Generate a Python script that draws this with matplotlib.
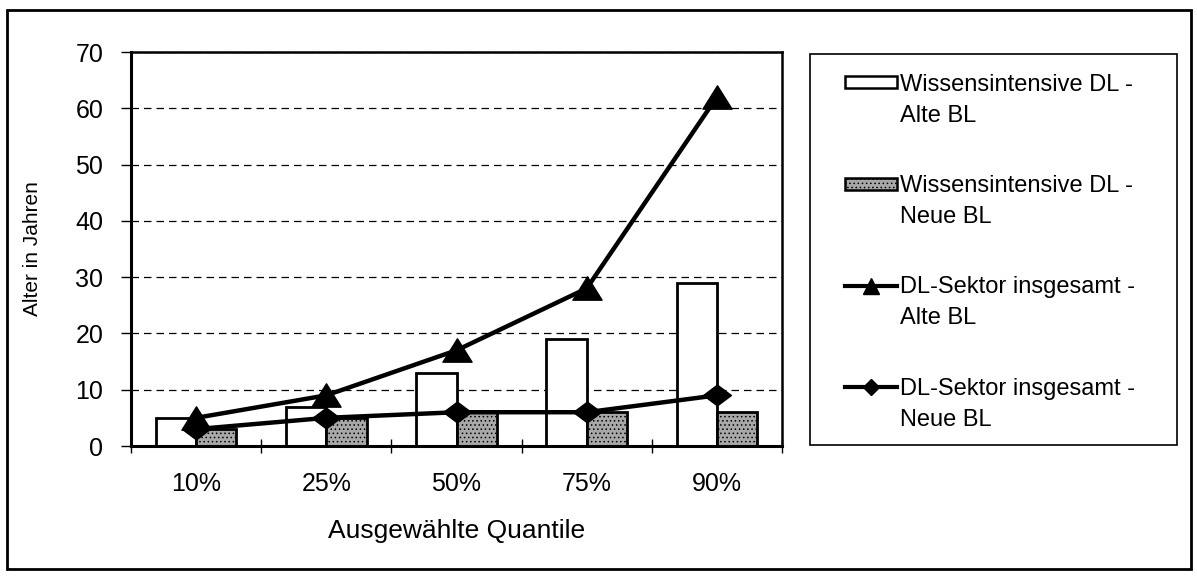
import matplotlib
matplotlib.use('Agg')
import matplotlib.pyplot as plt
import numpy as np
from matplotlib.patches import Rectangle, Patch
from matplotlib.lines import Line2D
from matplotlib.path import Path
from matplotlib.legend_handler import HandlerPatch, HandlerLine2D

# Werte
quantile = ['10%', '25%', '50%', '75%', '90%']
wissen_alt = [5, 7, 13, 19, 29]
wissen_neu = [3, 5, 6, 6, 6]
dl_alt = [5, 9, 17, 28, 62]
dl_neu = [3, 5, 6, 6, 9]
y_ticks = [0, 10, 20, 30, 40, 50, 60, 70]

labels = ['Wissensintensive DL -\nAlte BL',
          'Wissensintensive DL -\nNeue BL',
          'DL-Sektor insgesamt -\nAlte BL',
          'DL-Sektor insgesamt -\nNeue BL']

W, H = 1197, 576
GRAU = '#a8a8a8'

plt.rcParams['font.family'] = ['Liberation Sans', 'DejaVu Sans']
plt.rcParams['hatch.linewidth'] = 0.6

# Excel-artige Marker (etwas breiter als hoch)
tri = Path([(-1, -0.8), (1, -0.8), (0, 0.8), (-1, -0.8)],
           [Path.MOVETO, Path.LINETO, Path.LINETO, Path.CLOSEPOLY])
rau = Path([(-1, 0), (0, 0.75), (1, 0), (0, -0.75), (-1, 0)],
           [Path.MOVETO, Path.LINETO, Path.LINETO, Path.LINETO, Path.CLOSEPOLY])


class PatchOben(HandlerPatch):
    # Symbol auf Hoehe der ersten Textzeile
    def __init__(self, shift, **kw):
        super().__init__(**kw)
        self.shift = shift

    def create_artists(self, legend, orig_handle, xdescent, ydescent, width, height, fontsize, trans):
        return super().create_artists(legend, orig_handle, xdescent, ydescent - self.shift,
                                      width, height, fontsize, trans)


class LinieOben(HandlerLine2D):
    def __init__(self, shift, **kw):
        super().__init__(**kw)
        self.shift = shift

    def create_artists(self, legend, orig_handle, xdescent, ydescent, width, height, fontsize, trans):
        return super().create_artists(legend, orig_handle, xdescent, ydescent - 2 * self.shift,
                                      width, height, fontsize, trans)


fig = plt.figure(figsize=(W / 100, H / 100), dpi=100)
ax = fig.add_axes([131 / W, 1 - 446 / H, 651 / W, 394 / H])

x = np.arange(len(quantile))
w = 0.31
ax.bar(x - w / 2, wissen_alt, w, color='white', edgecolor='black', linewidth=2, zorder=2)
ax.bar(x + w / 2, wissen_neu, w, color=GRAU, edgecolor='black', hatch='....',
       linewidth=2, zorder=2)
ax.plot(x, dl_alt, color='black', linewidth=3.2, marker=tri, markersize=21, zorder=3)
ax.plot(x, dl_neu, color='black', linewidth=3.2, marker=rau, markersize=20, zorder=3)

ax.set_xlim(-0.5, len(quantile) - 0.5)
ax.set_ylim(0, 70)
ax.set_yticks(y_ticks)
ax.set_xticks(x)
ax.set_xticklabels(quantile, fontsize=18)
ax.set_xticks(np.arange(-0.5, len(quantile)), minor=True)
ax.tick_params(axis='x', which='major', length=0, pad=19)
ax.tick_params(axis='x', which='minor', length=10, direction='inout', width=1)
ax.tick_params(axis='y', labelsize=18, length=7, width=1, pad=13)
ax.yaxis.grid(True, linestyle=(0, (6, 4)), color='black', linewidth=0.9)
ax.set_axisbelow(True)
for s in ax.spines.values():
    s.set_linewidth(1.8)
ax.spines['left'].set_linewidth(2.2)
ax.spines['bottom'].set_linewidth(2.2)

ax.set_ylabel('Alter in Jahren', fontsize=15, labelpad=24)
ax.set_xlabel('Ausgewählte Quantile', fontsize=19, labelpad=16)

handles = [
    Patch(facecolor='white', edgecolor='black', linewidth=1.8),
    Patch(facecolor=GRAU, edgecolor='black', hatch='....', linewidth=1.8),
    Line2D([], [], color='black', linewidth=3, marker='^', markersize=12),
    Line2D([], [], color='black', linewidth=3, marker='D', markersize=8),
]
shift = 13
hmap = {handles[0]: PatchOben(shift), handles[1]: PatchOben(shift),
        handles[2]: LinieOben(shift, numpoints=1), handles[3]: LinieOben(shift, numpoints=1)}
leg = fig.legend(handles, labels, loc='upper left', bbox_to_anchor=(845 / W, 1 - 74 / H),
                 fontsize=17, frameon=False, handler_map=hmap,
                 handlelength=2.2, handleheight=0.4, handletextpad=0.15,
                 labelspacing=2.05, borderpad=0, borderaxespad=0)
for t in leg.get_texts():
    t.set_linespacing(1.52)

# Legendenrahmen und Aussenrahmen
fig.patches.append(Rectangle((810 / W, 1 - 445 / H), 367 / W, 391 / H,
                             transform=fig.transFigure, fill=False,
                             edgecolor='black', linewidth=1.2))
fig.patches.append(Rectangle((7 / W, 1 - 569 / H), 1184 / W, 559 / H,
                             transform=fig.transFigure, fill=False,
                             edgecolor='black', linewidth=2))

fig.savefig('out.png', dpi=100)
plt.close('all')
